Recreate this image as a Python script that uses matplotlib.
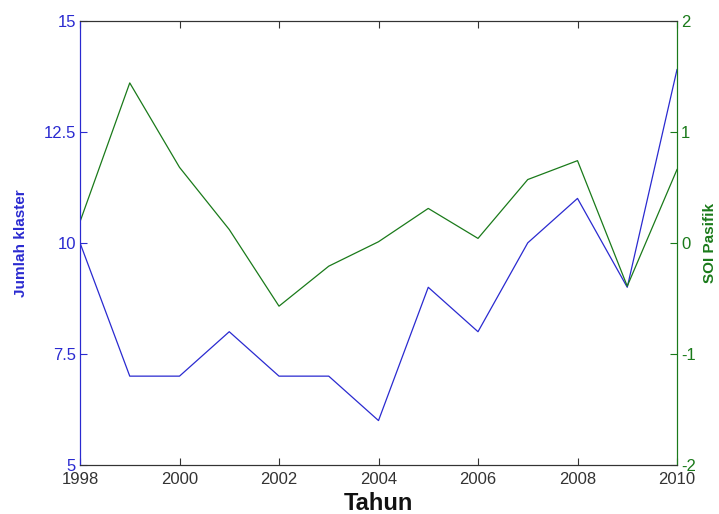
import matplotlib.pyplot as plt
import numpy as np

plt.rcParams['axes.unicode_minus'] = False
plt.rcParams['font.family'] = ['Liberation Sans', 'DejaVu Sans']

# data
tahun = [1998, 1999, 2000, 2001, 2002, 2003, 2004, 2005, 2006, 2007, 2008, 2009, 2010]
jumlah_klaster = [10, 7, 7, 8, 7, 7, 6, 9, 8, 10, 11, 9, 13.9]
soi_pasifik = [0.19, 1.44, 0.68, 0.12, -0.57, -0.21, 0.01, 0.31, 0.04, 0.57, 0.74, -0.39, 0.66]

blue = '#2a2ad0'
green = '#1a7a1a'

fig = plt.figure(figsize=(7.19, 5.14), dpi=100)
ax1 = fig.add_axes([80 / 719, 1 - 465 / 514, (677 - 80) / 719, (465 - 20.7) / 514])
ax2 = ax1.twinx()

ax1.plot(tahun, jumlah_klaster, color=blue, lw=0.9)
ax2.plot(tahun, soi_pasifik, color=green, lw=0.9)

ax1.set_xlim(1998, 2010)
ax1.set_ylim(5, 15)
ax2.set_ylim(-2, 2)
ax1.set_xticks([1998, 2000, 2002, 2004, 2006, 2008, 2010])
ax1.set_yticks([5, 7.5, 10, 12.5, 15])
ax1.set_yticklabels(['5', '7.5', '10', '12.5', '15'])
ax2.set_yticks([-2, -1, 0, 1, 2])
ax2.set_yticklabels(['-2', '-1', '0', '1', '2'])

ax1.tick_params(axis='x', direction='in', top=True, length=5, labelsize=12,
                colors='#333333', pad=5)
ax1.tick_params(axis='y', direction='in', length=5, labelsize=12, colors=blue, pad=3)
ax2.tick_params(axis='y', direction='in', length=5, labelsize=12, colors=green, pad=3)

for sp in ['top', 'bottom']:
    ax1.spines[sp].set_color('#333333')
    ax2.spines[sp].set_color('#333333')
ax2.spines['left'].set_color(blue)
ax1.spines['left'].set_color(blue)
ax2.spines['right'].set_color(green)
ax1.spines['right'].set_color(green)

ax1.set_xlabel('Tahun', fontsize=17, fontweight='bold', color='#111111')
ax1.xaxis.set_label_coords(0.5, -(492 - 465) / 444.3)
ax1.set_ylabel('Jumlah klaster', fontsize=11, fontweight='bold', color=blue)
ax1.yaxis.set_label_coords((28 - 80) / 597, 0.5)
ax2.set_ylabel('SOI Pasifik', fontsize=11, fontweight='bold', color=green)
ax2.yaxis.set_label_coords((703 - 80) / 597, 0.5)

fig.savefig('out.png', dpi=100)
